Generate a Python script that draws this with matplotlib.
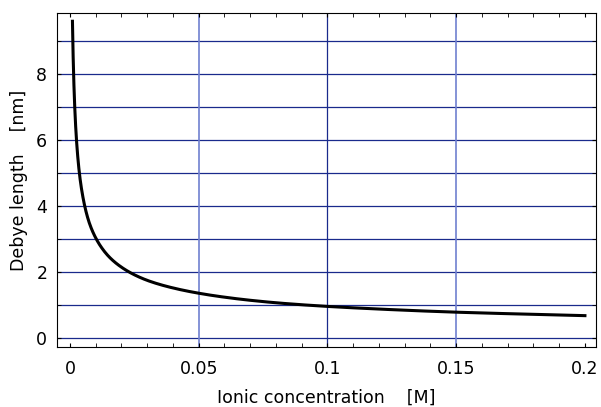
import numpy as np
import matplotlib.pyplot as plt
from matplotlib.ticker import MultipleLocator

plt.rcParams.update({'font.size': 12.5, 'font.family': 'DejaVu Sans'})

# values
conc = [0.001, 0.0015, 0.002, 0.003, 0.004, 0.005, 0.0075, 0.01, 0.0125, 0.015,
        0.02, 0.025, 0.03, 0.04, 0.05, 0.06, 0.08, 0.1, 0.12, 0.15, 0.175, 0.2]
debye = [9.6, 7.85, 6.8, 5.55, 4.8, 4.3, 3.5, 3.04, 2.72, 2.48,
         2.15, 1.92, 1.75, 1.52, 1.36, 1.24, 1.07, 0.96, 0.88, 0.785, 0.73, 0.68]

xticks = [0, 0.05, 0.1, 0.15, 0.2]
xlabels = ["0", "0.05", "0.1", "0.15", "0.2"]
yticks = [0, 2, 4, 6, 8]

navy = "#1a2a8c"
light = "#7080d0"

fig = plt.figure(figsize=(6.01, 4.07), dpi=100)
ax = fig.add_axes([57/601, 60/407, 539/601, 334/407])

for yv in range(0, 10):
    ax.axhline(yv, color=navy, lw=0.9, zorder=1)
for xv in [0.05, 0.15]:
    ax.axvline(xv, color=light, lw=1.2, zorder=1)
ax.axvline(0.1, color=navy, lw=0.9, zorder=1)

# smooth the read points in log-space for a clean curve
xs = np.linspace(np.log(conc[0]), np.log(conc[-1]), 400)
ys = np.exp(np.interp(xs, np.log(conc), np.log(debye)))
ax.plot(np.exp(xs), ys, color="black", lw=2.2, zorder=3)

ax.set_xlim(-0.005, 0.2043)
ax.set_ylim(-0.27, 9.85)
ax.set_xticks(xticks)
ax.set_xticklabels(xlabels)
ax.set_yticks(yticks)
ax.xaxis.set_minor_locator(MultipleLocator(0.01))
ax.yaxis.set_minor_locator(MultipleLocator(1))
ax.tick_params(which="both", direction="in", top=True, right=True,
               labeltop=False, labelright=False, length=3)
ax.tick_params(axis="x", which="major", pad=9)
ax.tick_params(axis="y", which="major", pad=7)

ax.set_xlabel("Ionic concentration    [M]", labelpad=8)
ax.set_ylabel("Debye length    [nm]", labelpad=6)

plt.savefig("out.png", dpi=100)
